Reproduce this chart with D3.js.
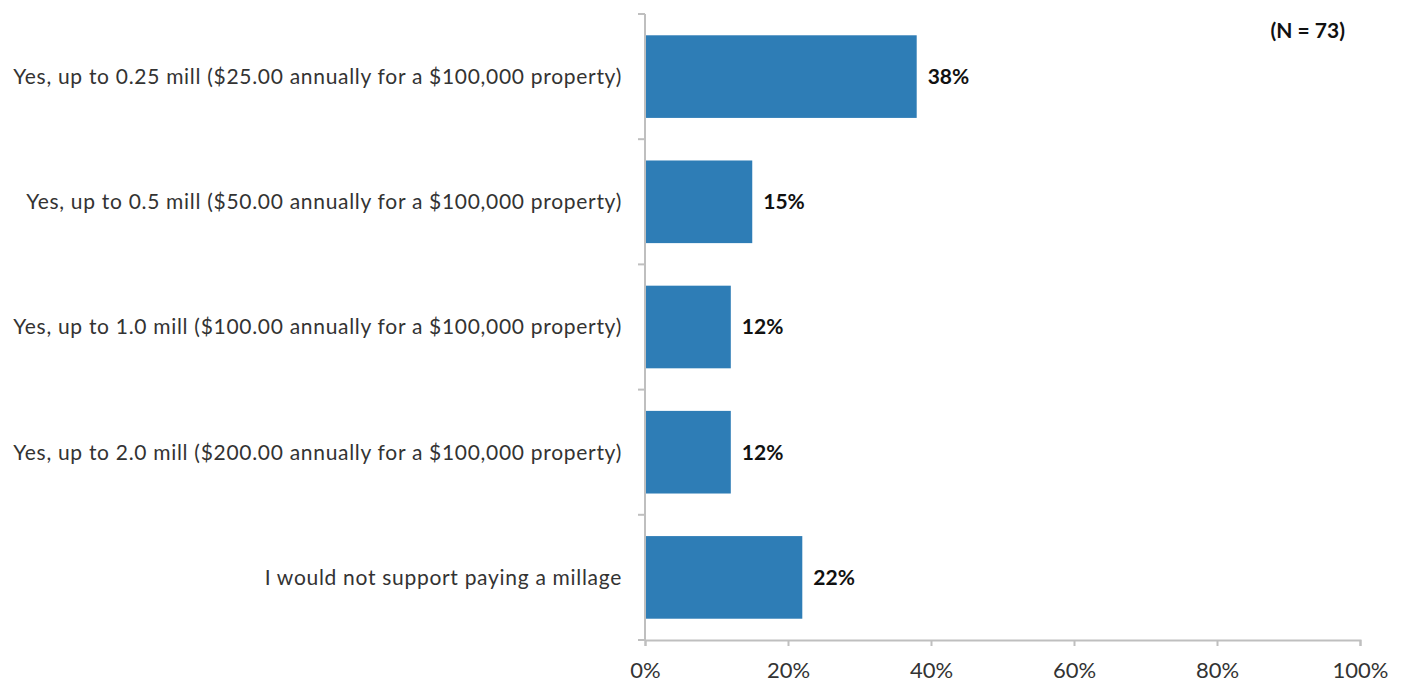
<!DOCTYPE html>
<html>
<head>
<meta charset="utf-8">
<script src="https://cdn.jsdelivr.net/npm/d3@7"></script>
<style>
  html, body { margin: 0; padding: 0; background: #fff; }
  svg { display: block; }
  text { font-family: Lato, "Open Sans", sans-serif; }
</style>
</head>
<body>
<div id="chart"></div>
<script>
const categories = [
  "Yes, up to 0.25 mill ($25.00 annually for a $100,000 property)",
  "Yes, up to 0.5 mill ($50.00 annually for a $100,000 property)",
  "Yes, up to 1.0 mill ($100.00 annually for a $100,000 property)",
  "Yes, up to 2.0 mill ($200.00 annually for a $100,000 property)",
  "I would not support paying a millage"
];
const values = [38, 15, 12, 12, 22];
const xTicks = [0, 20, 40, 60, 80, 100];
const note = "(N = 73)";

const W = 1406, H = 682;
const margin = { top: 14, right: 46, bottom: 42, left: 645 };

const svg = d3.select("#chart").append("svg")
  .attr("width", W).attr("height", H);

const x = d3.scaleLinear().domain([0, 100]).range([margin.left, W - margin.right]);
const y = d3.scaleBand().domain(categories)
  .range([margin.top, H - margin.bottom])
  .paddingInner(0.34).paddingOuter(0.17);

const axisColor = "#bfbfbf";
const textColor = "#333333";

// bars
svg.append("g").selectAll("rect").data(values).join("rect")
  .attr("x", x(0))
  .attr("y", (d, i) => y(categories[i]))
  .attr("width", d => x(d) - x(0))
  .attr("height", y.bandwidth())
  .attr("fill", "#2e7db6");

// value labels
svg.append("g").selectAll("text").data(values).join("text")
  .attr("x", d => x(d) + 11)
  .attr("y", (d, i) => y(categories[i]) + y.bandwidth() / 2)
  .attr("dy", "0.35em")
  .attr("font-size", 21)
  .attr("font-weight", "bold")
  .attr("fill", "#111")
  .text(d => d + "%");

// y axis: ticks at band boundaries
const yAxisG = svg.append("g");
yAxisG.append("line")
  .attr("x1", x(0)).attr("x2", x(0))
  .attr("y1", margin.top).attr("y2", H - margin.bottom)
  .attr("stroke", axisColor).attr("stroke-width", 2);
const boundaries = categories.map(c => y(c) - y.step() * y.paddingInner() / 2)
  .concat([H - margin.bottom]);
yAxisG.selectAll("line.tick").data(boundaries).join("line")
  .attr("class", "tick")
  .attr("x1", x(0) - 7).attr("x2", x(0))
  .attr("y1", d => d).attr("y2", d => d)
  .attr("stroke", axisColor).attr("stroke-width", 2);
yAxisG.selectAll("text").data(categories).join("text")
  .attr("x", x(0) - 23)
  .attr("y", d => y(d) + y.bandwidth() / 2)
  .attr("dy", "0.35em")
  .attr("text-anchor", "end")
  .attr("font-size", 21)
  .attr("letter-spacing", 0.7)
  .attr("fill", textColor)
  .text(d => d);

// x axis
const xAxis = d3.axisBottom(x).tickValues(xTicks).tickFormat(d => d + "%").tickSize(6).tickPadding(16);
const xg = svg.append("g")
  .attr("transform", `translate(0,${H - margin.bottom})`)
  .call(xAxis);
xg.select(".domain").attr("stroke", axisColor).attr("stroke-width", 2);
xg.selectAll(".tick line").attr("stroke", axisColor).attr("stroke-width", 2);
xg.selectAll(".tick text")
  .attr("font-size", 22)
  .attr("font-family", "Lato, 'Open Sans', sans-serif")
  .attr("fill", textColor);

// note
svg.append("text")
  .attr("x", W - 61).attr("y", 31)
  .attr("dy", "0.35em")
  .attr("text-anchor", "end")
  .attr("font-size", 21)
  .attr("font-weight", "bold")
  .attr("fill", "#111")
  .text(note);
</script>
</body>
</html>
